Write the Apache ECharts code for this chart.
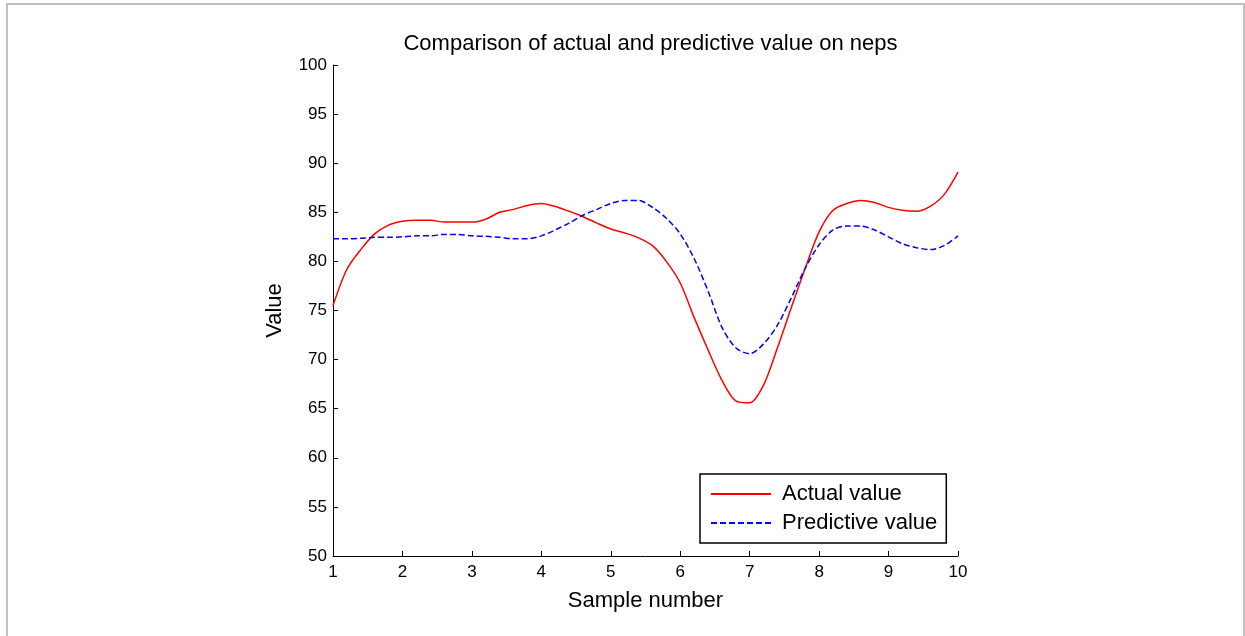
<!DOCTYPE html>
<html>
<head>
<meta charset="utf-8">
<script src="https://cdn.jsdelivr.net/npm/echarts@6/dist/echarts.min.js"></script>
<style>
  html, body { margin: 0; padding: 0; background: #fff; }
  #chart { width: 1245px; height: 636px; }
</style>
</head>
<body>
<div id="chart"></div>
<script>
// sample positions (step 0.2)
var sampleX = [1.0, 1.2, 1.4, 1.6, 1.8, 2.0, 2.2, 2.4, 2.6, 2.8,
  3.0, 3.2, 3.4, 3.6, 3.8, 4.0, 4.2, 4.4, 4.6, 4.8,
  5.0, 5.2, 5.4, 5.6, 5.8, 6.0, 6.2, 6.4, 6.6, 6.8,
  7.0, 7.2, 7.4, 7.6, 7.8, 8.0, 8.2, 8.4, 8.6, 8.8,
  9.0, 9.2, 9.4, 9.6, 9.8, 10.0];

var actualValue = [75.5, 79.2, 81.2, 82.8, 83.7, 84.1, 84.2, 84.2, 84.0, 84.0,
  84.0, 84.3, 85.0, 85.3, 85.7, 85.9, 85.6, 85.1, 84.55, 83.9,
  83.3, 82.9, 82.4, 81.6, 80.0, 77.8, 74.3, 71.0, 67.9, 65.8,
  65.6, 67.4, 71.2, 75.3, 79.3, 83.0, 85.2, 85.9, 86.2, 86.0,
  85.5, 85.2, 85.1, 85.6, 86.8, 89.1];

var predictiveValue = [82.3, 82.3, 82.35, 82.45, 82.45, 82.5, 82.6, 82.6, 82.75, 82.75,
  82.6, 82.55, 82.45, 82.3, 82.3, 82.6, 83.2, 83.9, 84.7, 85.3,
  85.9, 86.2, 86.2, 85.5, 84.4, 82.8, 80.3, 77.0, 73.3, 71.2,
  70.6, 71.6, 73.5, 76.3, 79.3, 81.7, 83.2, 83.6, 83.6, 83.2,
  82.5, 81.8, 81.4, 81.2, 81.6, 82.6];

var seriesNames = ['Actual value', 'Predictive value'];

function pairs(ys) {
  return sampleX.map(function (x, i) { return [x, ys[i]]; });
}

var myChart = echarts.init(document.getElementById('chart'));
var fontFam = '"Liberation Sans", Arial, sans-serif';

myChart.setOption({
  animation: false,
  backgroundColor: '#fff',
  textStyle: { fontFamily: fontFam, color: '#000' },
  title: {
    text: 'Comparison of actual and predictive value on neps',
    left: 645.5,
    textAlign: 'center',
    top: 28,
    textStyle: { fontFamily: fontFam, fontSize: 22, fontWeight: 'normal', color: '#000' }
  },
  grid: { left: 333, right: 287, top: 65, bottom: 80, containLabel: false },
  legend: {
    orient: 'vertical',
    left: 700,
    top: 474,
    data: seriesNames,
    itemWidth: 60,
    itemHeight: 14,
    itemGap: 7,
    padding: [9, 9, 9, 10],
    borderColor: '#000',
    borderWidth: 1.5,
    backgroundColor: '#fff',
    itemStyle: { opacity: 0 },
    textStyle: { fontFamily: fontFam, fontSize: 22, color: '#000', padding: [0, 0, 0, 6] }
  },
  xAxis: {
    type: 'value',
    min: 1,
    max: 10,
    interval: 1,
    name: 'Sample number',
    nameLocation: 'middle',
    nameGap: 34,
    nameTextStyle: { fontFamily: fontFam, fontSize: 22, color: '#000' },
    axisLine: { lineStyle: { color: '#000', width: 1 } },
    axisTick: { inside: true, length: 5, lineStyle: { color: '#000' } },
    axisLabel: { fontFamily: fontFam, fontSize: 17, color: '#000', margin: 8 },
    splitLine: { show: false }
  },
  yAxis: {
    type: 'value',
    min: 50,
    max: 100,
    interval: 5,
    name: 'Value',
    nameLocation: 'middle',
    nameGap: 47,
    nameTextStyle: { fontFamily: fontFam, fontSize: 22, color: '#000' },
    axisLine: { show: true, lineStyle: { color: '#000', width: 1 } },
    axisTick: { show: true, inside: true, length: 5, lineStyle: { color: '#000' } },
    axisLabel: { fontFamily: fontFam, fontSize: 17, color: '#000', margin: 6 },
    splitLine: { show: false }
  },
  series: [
    {
      name: seriesNames[0],
      type: 'line',
      data: pairs(actualValue),
      smooth: 0.3,
      symbol: 'none',
      lineStyle: { color: '#ff0000', width: 1.5 },
      itemStyle: { color: '#ff0000' }
    },
    {
      name: seriesNames[1],
      type: 'line',
      data: pairs(predictiveValue),
      smooth: 0.3,
      symbol: 'none',
      lineStyle: { color: '#0000ff', width: 1.5, type: [6, 3] },
      itemStyle: { color: '#0000ff' }
    }
  ],
  graphic: [
    {
      type: 'rect',
      silent: true,
      shape: { x: 7, y: 4, width: 1237, height: 650 },
      style: { fill: 'none', stroke: '#c0c0c0', lineWidth: 2 }
    }
  ]
});
</script>
</body>
</html>
